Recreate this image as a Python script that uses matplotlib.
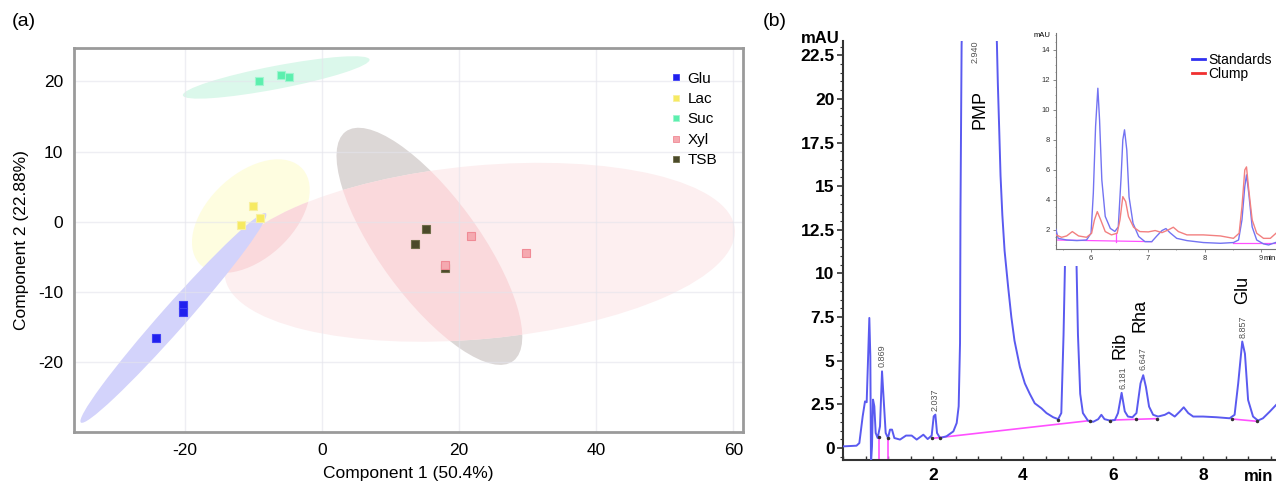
import matplotlib.pyplot as plt
from matplotlib.patches import Ellipse, Rectangle
from matplotlib.lines import Line2D
from matplotlib.ticker import MultipleLocator, FuncFormatter

plt.rcParams['font.family'] = ['Liberation Sans', 'DejaVu Sans']
plt.rcParams['axes.unicode_minus'] = False

# ---------------- (a) PCA scores ----------------
groups = ['Glu', 'Lac', 'Suc', 'Xyl', 'TSB']
glu_pc1 = [-24.2, -20.3, -20.3]
glu_pc2 = [-16.6, -11.8, -12.8]
lac_pc1 = [-10.1, -11.9, -9.1]
lac_pc2 = [2.2, -0.4, 0.5]
suc_pc1 = [-9.2, -6.0, -4.8]
suc_pc2 = [20.0, 20.9, 20.6]
xyl_pc1 = [17.9, 21.7, 29.7]
xyl_pc2 = [-6.2, -2.1, -4.5]
tsb_pc1 = [13.6, 15.2, 17.9]
tsb_pc2 = [-3.1, -1.0, -6.6]

# confidence ellipses: centre, width, height, angle (same order as groups)
ell_cx = [-21.7, -10.4, -6.7, 23.0, 15.65]
ell_cy = [-13.7, 0.8, 20.55, -4.35, -3.5]
ell_w = [40.2, 20.2, 27.7, 74.7, 40.8]
ell_h = [3.6, 12.2, 3.3, 24.7, 14.5]
ell_ang = [47.8, 41.3, 10.6, 5.1, -53.1]

# ---------------- (b) chromatogram ----------------
std_time = [0.0, 0.3, 0.363, 0.437, 0.489, 0.526, 0.556, 0.585, 0.607, 0.622,
            0.644, 0.667, 0.696, 0.726, 0.77, 0.822, 0.867, 0.904, 0.948, 1.0,
            1.044, 1.089, 1.141, 1.267, 1.4, 1.526, 1.637, 1.785, 1.881, 1.97,
            2.015, 2.052, 2.089, 2.156, 2.3, 2.452, 2.526, 2.57, 2.6, 2.61,
            2.635, 3.0, 3.42, 3.44, 3.47, 3.5, 3.54, 3.59, 3.67, 3.74,
            3.81, 3.93, 4.04, 4.15, 4.26, 4.41, 4.52, 4.67, 4.78, 4.85,
            4.9, 4.93, 5.06, 5.19, 5.22, 5.27, 5.33, 5.44, 5.56, 5.67,
            5.74, 5.81, 5.93, 6.04, 6.11, 6.19, 6.26, 6.33, 6.43, 6.52,
            6.61, 6.67, 6.73, 6.8, 6.89, 7.0, 7.15, 7.24, 7.37, 7.48,
            7.57, 7.67, 7.78, 8.0, 8.3, 8.59, 8.7, 8.78, 8.87, 8.93,
            9.0, 9.11, 9.22, 9.33, 9.48, 9.62]
std_mau = [0.09, 0.13, 0.28, 1.81, 2.67, 2.62, 5.06, 7.45, 5.25, -0.9,
           0.09, 2.77, 2.39, 0.86, 0.57, 1.24, 4.39, 2.77, 0.86, 0.57,
           1.05, 1.05, 0.57, 0.48, 0.71, 0.71, 0.48, 0.76, 0.51, 0.71,
           1.81, 1.91, 0.86, 0.57, 0.67, 0.95, 1.43, 2.39, 6.02, 13.5,
           23.1, 60.0, 23.1, 20.9, 18.3, 15.6, 13.35, 11.3, 9.2, 7.5,
           6.15, 4.64, 3.7, 3.1, 2.56, 2.27, 2.0, 1.76, 1.65, 2.0,
           6.5, 10.3, 40.0, 10.3, 6.5, 3.1, 2.0, 1.57, 1.5, 1.65,
           1.9, 1.65, 1.57, 1.6, 2.0, 3.16, 2.1, 1.8, 1.76, 2.0,
           3.7, 4.17, 3.5, 2.37, 1.9, 1.8, 1.9, 2.03, 1.8, 2.08,
           2.33, 2.0, 1.8, 1.8, 1.76, 1.7, 1.9, 3.7, 6.1, 5.4,
           2.75, 1.8, 1.57, 1.7, 2.08, 2.46]

base_t = [[1.985, 5.49], [6.0, 6.97], [8.64, 9.19], [0.79, 0.79], [1.01, 1.01]]
base_y = [[0.55, 1.57], [1.6, 1.68], [1.66, 1.53], [0.6, -1.0], [0.57, -1.0]]
mark_t = [0.79, 1.01, 1.985, 2.16, 4.78, 5.49, 5.93, 6.52, 6.97, 8.64, 9.19]
mark_y = [0.6, 0.57, 0.55, 0.57, 1.6, 1.57, 1.57, 1.65, 1.68, 1.66, 1.53]

peak_rt = ['0.869', '2.037', '2.940', '6.181', '6.647', '8.857']
peak_t = [0.88, 2.05, 2.93, 6.21, 6.67, 8.89]
peak_y = [5.3, 2.75, 22.7, 4.0, 5.1, 6.95]

compounds = ['PMP', 'Rib', 'Rha', 'Glu']
comp_t = [3.05, 6.16, 6.6, 8.88]
comp_y = [19.4, 5.9, 7.6, 9.05]

# inset
ins_std_t = [5.38, 5.42, 5.57, 5.75, 5.92, 6.0, 6.04, 6.08, 6.12, 6.15,
             6.19, 6.25, 6.34, 6.42, 6.48, 6.53, 6.56, 6.59, 6.63, 6.67,
             6.74, 6.84, 6.95, 7.07, 7.16, 7.25, 7.32, 7.39, 7.51, 7.69,
             7.98, 8.28, 8.51, 8.6, 8.66, 8.71, 8.74, 8.78, 8.84, 8.92,
             9.04, 9.13, 9.25]
ins_std_y = [2.04, 1.44, 1.33, 1.29, 1.33, 1.78, 4.44, 8.9, 11.44, 9.33,
             5.33, 2.9, 2.1, 1.9, 2.2, 5.55, 8.0, 8.67, 7.33, 4.2,
             2.44, 1.56, 1.22, 1.22, 1.6, 1.96, 2.09, 1.82, 1.44, 1.29,
             1.16, 1.11, 1.16, 1.33, 2.67, 4.9, 5.67, 4.44, 2.2, 1.33,
             1.07, 1.0, 1.16]
ins_clump_t = [5.38, 5.48, 5.57, 5.67, 5.78, 5.92, 6.01, 6.06, 6.11, 6.17,
               6.25, 6.36, 6.46, 6.51, 6.56, 6.61, 6.66, 6.75, 6.86, 7.01,
               7.13, 7.25, 7.36, 7.45, 7.54, 7.69, 7.98, 8.28, 8.51, 8.61,
               8.66, 8.71, 8.74, 8.78, 8.84, 8.92, 9.04, 9.16, 9.26]
ins_clump_y = [1.67, 1.51, 1.6, 1.89, 1.6, 1.51, 1.78, 2.67, 3.22, 2.67,
               1.89, 1.67, 1.78, 2.67, 4.22, 3.89, 2.89, 2.18, 1.89, 1.87,
               1.96, 1.82, 2.0, 2.18, 1.89, 1.67, 1.67, 1.6, 1.44, 1.78,
               3.55, 6.0, 6.2, 4.67, 2.67, 1.78, 1.44, 1.44, 1.78]
ins_base_t = [[5.38, 7.07], [8.51, 9.25], [6.44, 6.44]]
ins_base_y = [[1.33, 1.22], [1.11, 1.11], [1.78, 1.22]]

W, H = 1276, 487
fig = plt.figure(figsize=(W / 100, H / 100), dpi=100)


def px_box(l, t, r, b):
    return [l / W, 1 - b / H, (r - l) / W, (b - t) / H]


# ================= panel (a) =================
ax = fig.add_axes(px_box(74, 48.3, 743, 431.7))
ax.set_xlim(-36.2, 61.4)
ax.set_ylim(-29.9, 24.7)

ell_fc = ['#d3d3fb', '#fefde0', '#dbf8eb', '#fdeff0', '#dcd7d6']
ell_z = [1.4, 1.0, 1.0, 1.2, 1.1]
patches = {}
for i, g in enumerate(groups):
    e = Ellipse((ell_cx[i], ell_cy[i]), ell_w[i], ell_h[i], angle=ell_ang[i],
                fc=ell_fc[i], ec='none', zorder=ell_z[i])
    ax.add_patch(e)
    patches[g] = e
# darker pink where the Xyl ellipse overlaps TSB / Lac
for other in ['TSB', 'Lac']:
    ov = Ellipse((ell_cx[3], ell_cy[3]), ell_w[3], ell_h[3], angle=ell_ang[3],
                 fc='#fad9dc', ec='none', zorder=1.3)
    ax.add_patch(ov)
    ov.set_clip_path(patches[other])

ax.set_axisbelow('line')
ax.grid(True, color='#e4e4ec', lw=1, alpha=0.6)

face = ['#2020ee', '#f6ea62', '#5cefae', '#f5a9b0', '#4b4a2a']
edge = ['#4040f5', '#f8f0a0', '#a0f5d0', '#f08a95', '#6e6c48']
xs = [glu_pc1, lac_pc1, suc_pc1, xyl_pc1, tsb_pc1]
ys = [glu_pc2, lac_pc2, suc_pc2, xyl_pc2, tsb_pc2]
mz = [3, 3, 3, 3.2, 3.1]
for i in range(len(groups)):
    ax.plot(xs[i], ys[i], 's', ms=6, mfc=face[i], mec=edge[i], mew=0.8, zorder=mz[i])

handles = [Line2D([], [], marker='s', ls='', ms=5, mfc=face[i], mec=edge[i], mew=0.6)
           for i in range(len(groups))]
ax.legend(handles, groups, loc='upper left', bbox_to_anchor=(0.874, 0.967),
          frameon=False, fontsize=11, labelspacing=0.42, handlelength=0.8,
          handletextpad=0.4, borderpad=0.2)

for s in ax.spines.values():
    s.set_color('#9a9a9a')
    s.set_linewidth(2)
ax.set_xticks([-20, 0, 20, 40, 60])
ax.set_yticks([-20, -10, 0, 10, 20])
ax.tick_params(length=0, labelsize=12.5, pad=8)
ax.set_xlabel('Component 1 (50.4%)', fontsize=12.5, labelpad=6)
ax.set_ylabel('Component 2 (22.88%)', fontsize=12.5, labelpad=6)
fig.text(12 / W, 1 - 21 / H, '(a)', fontsize=14, va='center', ha='left')

# ================= panel (b) =================
axb = fig.add_axes(px_box(843, 41, 1276, 460))
axb.set_xlim(0, 9.62)
axb.set_ylim(-0.69, 23.32)
axb.plot(std_time, std_mau, color='#5a5af0', lw=1.4, zorder=3)
for bt, by in zip(base_t, base_y):
    axb.plot(bt, by, color='#ff50ff', lw=1.2, zorder=2)
axb.plot(mark_t, mark_y, 'o', color='#333333', ms=1.5, zorder=4)
for lab, t, y in zip(peak_rt, peak_t, peak_y):
    axb.text(t, y, lab, rotation=90, fontsize=6.5, color='#555555',
             ha='center', va='center')
for lab, t, y in zip(compounds, comp_t, comp_y):
    axb.text(t, y, lab, rotation=90, fontsize=13, ha='center', va='center')

for side in ['top', 'right']:
    axb.spines[side].set_visible(False)
for side in ['left', 'bottom']:
    axb.spines[side].set_color('#333333')
    axb.spines[side].set_linewidth(1.5)
axb.yaxis.set_major_locator(MultipleLocator(2.5))
axb.yaxis.set_minor_locator(MultipleLocator(0.5))
axb.yaxis.set_major_formatter(FuncFormatter(lambda v, p: '%g' % v))
axb.set_xticks([2, 4, 6, 8])
axb.xaxis.set_minor_locator(MultipleLocator(0.5))
axb.tick_params(axis='y', which='major', direction='out', length=4, width=1.2,
                labelsize=12.5, pad=2, color='#333333')
axb.tick_params(axis='y', which='minor', direction='out', length=2, width=0.8,
                color='#333333')
axb.tick_params(axis='x', which='both', direction='in', length=3, width=1,
                labelsize=12.5, pad=6, color='#333333')
for lbl in axb.get_xticklabels() + axb.get_yticklabels():
    lbl.set_fontweight('bold')
fig.text(820 / W, 1 - 38.5 / H, 'mAU', fontsize=12, fontweight='bold',
         ha='center', va='center')
fig.text(1273 / W, 1 - 476.7 / H, 'min', fontsize=12, fontweight='bold',
         ha='right', va='center')
fig.text(763 / W, 1 - 22 / H, '(b)', fontsize=14, va='center', ha='left')

# white box behind the inset
bg = Rectangle((1028 / W, 1 - 266 / H), (W - 1028) / W, (266 - 28) / H,
               transform=fig.transFigure, fc='white', ec='none', zorder=0.5)
fig.add_artist(bg)

axi = fig.add_axes(px_box(1055.7, 33.3, 1276, 249))
axi.set_zorder(1)
axi.set_xlim(5.377, 9.26)
axi.set_ylim(0.73, 15.1)
axi.plot(ins_std_t, ins_std_y, color='#7373f2', lw=1.0, zorder=3)
axi.plot(ins_clump_t, ins_clump_y, color='#f28080', lw=1.0, zorder=3)
for bt, by in zip(ins_base_t, ins_base_y):
    axi.plot(bt, by, color='#ff50ff', lw=0.9, zorder=2)
for side in ['top', 'right']:
    axi.spines[side].set_visible(False)
for side in ['left', 'bottom']:
    axi.spines[side].set_color('#777777')
    axi.spines[side].set_linewidth(0.8)
axi.set_yticks([2, 4, 6, 8, 10, 12, 14])
axi.set_xticks([6, 7, 8, 9])
axi.yaxis.set_minor_locator(MultipleLocator(0.5))
axi.xaxis.set_minor_locator(MultipleLocator(0.5))
axi.tick_params(which='major', length=2, width=0.6, labelsize=5.5, pad=2,
                color='#777777', labelcolor='#333333')
axi.tick_params(which='minor', length=1, width=0.5, color='#777777')
ins_handles = [Line2D([], [], color='#3030f0', lw=2), Line2D([], [], color='#f03030', lw=2)]
axi.legend(ins_handles, ['Standards', 'Clump'], loc='upper left',
           bbox_to_anchor=(0.585, 0.94), frameon=False, fontsize=10,
           labelspacing=0.0, handlelength=1.0, handletextpad=0.2, borderpad=0)
fig.text(1041.5 / W, 1 - 35.5 / H, 'mAU', fontsize=5.5, ha='center', va='center')
fig.text(1264 / W, 1 - 258 / H, 'min', fontsize=5.5, ha='left', va='center')

fig.savefig('out.png', dpi=100)
